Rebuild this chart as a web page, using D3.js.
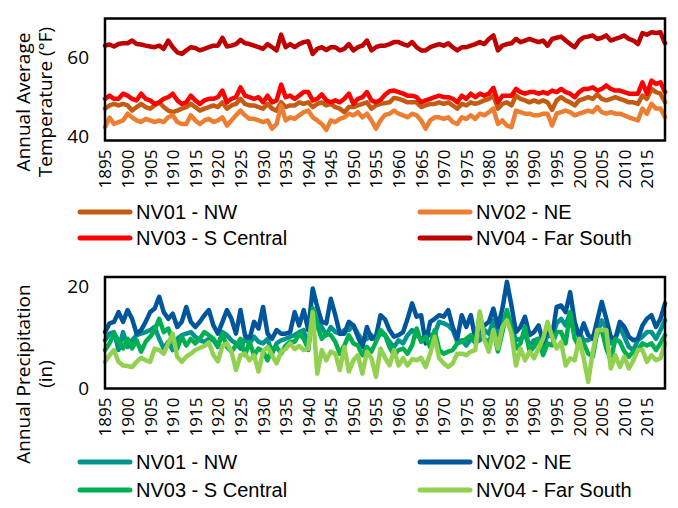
<!DOCTYPE html>
<html>
<head>
<meta charset="utf-8">
<script src="https://cdn.jsdelivr.net/npm/d3@7/dist/d3.min.js"></script>
<style>
    body { margin: 0; background: #fff; }
    svg { display: block; }
    .axis text { font-family: 'Open Sans', sans-serif; fill: #000; }
    .axis-title { font-family: 'Open Sans', sans-serif; font-size: 19px; fill: #000; }
    .legend-label { font-family: 'Liberation Sans Narrow', 'Arial Narrow', 'Liberation Sans', sans-serif; font-size: 20px; fill: #000; }
</style>
</head>
<body>
<svg id="chart" width="678" height="508"></svg>
<script>
//categories
var years = d3.range(1895, 2020);
var yearTicks = [1895, 1900, 1905, 1910, 1915, 1920, 1925, 1930, 1935, 1940, 1945, 1950, 1955,
    1960, 1965, 1970, 1975, 1980, 1985, 1990, 1995, 2000, 2005, 2010, 2015];
var tempTicks = [40, 60];
var precipTicks = [0, 20];

var divisionNames = ['NV01 - NW', 'NV02 - NE', 'NV03 - S Central', 'NV04 - Far South'];

//annual average temperature (F), 1895-2019
var tempNW = [47.1, 47.9, 48.3, 47.9, 48.3, 47.9, 46.6, 47.5, 48.3, 47.5, 47.1, 47.9, 48.7, 47.5, 46.6, 46.2, 46.6, 47.1, 47.5, 48.3,
    47.5, 46.6, 47.1, 47.5, 47.9, 47.5, 48.7, 47.1, 47.9, 48.3, 49.6, 48.3, 47.9, 47.9, 47.5, 47.1, 48.3, 47.1, 46.6, 48.7,
    47.5, 47.9, 47.9, 48.7, 48.3, 48.7, 47.5, 48.3, 48.7, 47.9, 48.3, 47.5, 47.1, 46.2, 47.5, 47.5, 47.9, 48.3, 48.7, 47.1,
    47.9, 48.3, 48.5, 48.7, 49.8, 49.6, 49.2, 48.7, 48.7, 48.7, 47.5, 47.9, 48.3, 48.3, 48.7, 48.3, 48.7, 47.9, 47.1, 48.3,
    47.9, 48.7, 48.3, 48.7, 49.2, 49.6, 50.4, 47.1, 48.3, 48.7, 47.9, 50.4, 49.6, 49.2, 48.7, 49.2, 48.7, 49.2, 48.7, 46.8,
    49.2, 50.0, 49.2, 48.7, 47.9, 49.2, 49.6, 50.0, 49.6, 50.7, 49.6, 49.2, 49.6, 50.0, 49.6, 49.2, 48.7, 48.7, 48.3, 50.4,
    49.6, 52.1, 51.3, 50.9, 48.7];
var tempNE = [42.4, 44.8, 43.2, 43.7, 44.1, 45.8, 44.9, 44.1, 43.7, 44.5, 44.1, 43.7, 44.1, 43.7, 44.9, 45.4, 43.7, 43.2, 43.2, 45.4,
    44.1, 43.2, 44.1, 44.5, 43.7, 44.1, 44.9, 42.8, 44.1, 45.4, 46.6, 45.4, 44.5, 44.5, 44.1, 43.7, 44.1, 42.0, 43.2, 47.9,
    44.1, 44.9, 44.5, 45.4, 46.2, 46.6, 44.9, 44.1, 43.2, 41.7, 44.1, 43.7, 44.5, 44.9, 45.8, 45.4, 46.2, 44.9, 45.8, 44.1,
    42.0, 44.1, 45.5, 45.8, 46.6, 45.8, 45.4, 44.9, 45.8, 45.4, 44.1, 42.0, 44.1, 44.9, 44.9, 44.5, 44.9, 43.7, 43.2, 44.9,
    44.5, 45.4, 44.5, 45.8, 45.4, 46.2, 47.1, 43.2, 44.1, 42.8, 42.4, 46.6, 46.2, 45.8, 45.8, 45.4, 45.4, 45.8, 45.8, 42.8,
    45.8, 46.2, 46.6, 46.2, 45.4, 45.8, 46.2, 46.6, 46.2, 47.5, 46.2, 45.8, 46.2, 45.8, 45.8, 45.4, 44.9, 44.5, 44.1, 47.1,
    45.8, 48.3, 47.1, 47.1, 44.9];
var tempSC = [49.6, 50.4, 49.6, 49.6, 50.9, 50.4, 49.6, 49.2, 50.9, 49.6, 49.2, 48.3, 48.7, 49.6, 50.0, 50.9, 49.2, 48.3, 48.7, 50.4,
    49.2, 48.3, 49.2, 49.6, 49.6, 50.0, 51.7, 48.7, 49.6, 50.0, 52.5, 50.4, 50.0, 49.6, 50.0, 48.7, 50.4, 48.7, 49.2, 53.2,
    50.0, 50.4, 49.6, 50.4, 51.3, 51.3, 49.2, 49.6, 50.7, 49.2, 48.7, 49.2, 48.7, 49.6, 50.9, 48.3, 49.6, 50.0, 51.3, 49.2,
    48.7, 49.3, 50.6, 51.5, 51.7, 51.3, 50.9, 50.4, 50.4, 50.0, 48.7, 49.2, 49.6, 50.0, 50.4, 50.0, 50.0, 49.6, 48.7, 50.4,
    49.6, 50.9, 50.0, 50.9, 50.4, 50.9, 52.4, 48.7, 50.4, 50.4, 50.4, 52.1, 51.3, 50.9, 51.3, 51.3, 50.9, 51.3, 50.9, 51.7,
    51.3, 52.1, 51.3, 50.9, 50.0, 51.3, 52.1, 52.1, 52.5, 51.7, 52.1, 53.0, 52.1, 51.7, 51.7, 51.3, 50.9, 50.9, 50.9, 53.8,
    50.9, 54.2, 53.4, 53.8, 51.3];
var tempFS = [63.1, 63.4, 62.9, 63.5, 63.7, 63.7, 64.4, 63.5, 63.4, 63.1, 62.9, 62.7, 63.1, 62.3, 64.4, 62.7, 61.4, 61.0, 61.9, 62.7,
    62.5, 61.9, 62.3, 62.7, 63.1, 63.1, 65.1, 62.9, 63.1, 63.5, 64.6, 63.7, 63.5, 63.1, 62.7, 62.3, 63.5, 62.7, 61.9, 65.9,
    62.7, 63.5, 62.7, 63.5, 64.0, 64.2, 61.0, 62.3, 62.7, 62.0, 62.7, 62.7, 61.9, 62.3, 63.5, 61.9, 62.7, 63.1, 64.4, 61.9,
    62.7, 63.1, 63.1, 63.5, 64.0, 64.0, 63.5, 63.1, 64.0, 62.7, 61.9, 61.9, 62.7, 63.1, 63.5, 63.1, 63.7, 62.7, 61.9, 62.7,
    62.7, 63.1, 63.5, 64.0, 63.5, 64.8, 65.7, 61.9, 63.1, 63.5, 63.7, 64.8, 64.0, 64.4, 64.8, 64.4, 64.0, 64.4, 63.1, 64.8,
    65.1, 65.4, 64.4, 63.5, 62.7, 64.4, 65.2, 65.4, 65.7, 64.8, 65.1, 65.7, 64.4, 64.8, 65.2, 65.7, 64.8, 64.4, 63.5, 66.3,
    65.9, 66.5, 66.3, 66.5, 63.7];

//annual precipitation (in), 1895-2019
var precipNW = [9.4, 10.7, 11.0, 7.5, 11.0, 8.1, 9.4, 10.4, 10.7, 11.0, 11.4, 12.0, 9.7, 7.8, 9.1, 7.5, 9.7, 10.4, 10.7, 11.0,
    10.1, 9.4, 9.1, 9.7, 9.4, 8.1, 11.0, 10.4, 9.4, 8.8, 7.8, 9.7, 8.8, 10.1, 9.1, 8.8, 9.7, 6.8, 8.8, 9.4,
    9.7, 10.1, 10.4, 11.0, 11.4, 7.5, 15.6, 13.0, 12.0, 10.4, 12.0, 11.0, 10.7, 11.4, 11.4, 12.3, 10.7, 9.4, 9.7, 10.4,
    9.4, 10.7, 10.4, 9.1, 8.1, 9.4, 8.8, 10.4, 11.4, 10.4, 9.7, 10.1, 10.4, 10.7, 13.0, 12.7, 12.3, 11.4, 9.1, 9.4,
    8.4, 9.7, 9.1, 9.4, 11.4, 10.7, 13.3, 10.4, 13.0, 15.0, 12.0, 9.4, 9.7, 10.4, 8.4, 9.4, 9.7, 8.1, 10.4, 10.1,
    12.7, 13.6, 12.3, 14.9, 10.7, 11.0, 9.4, 9.4, 10.1, 10.7, 13.3, 11.7, 8.8, 9.7, 12.0, 10.1, 8.1, 7.5, 9.4, 10.1,
    11.0, 11.0, 9.7, 11.4, 13.3];
var precipNE = [11.0, 12.7, 13.0, 14.9, 13.0, 15.3, 13.6, 10.7, 11.4, 13.0, 14.9, 15.6, 17.9, 14.9, 13.6, 14.6, 12.0, 13.0, 15.9, 13.0,
    12.0, 13.0, 14.3, 15.3, 12.3, 10.7, 13.0, 15.3, 13.6, 10.7, 15.3, 10.4, 9.7, 13.0, 11.7, 15.9, 10.7, 9.7, 11.4, 10.7,
    10.7, 11.0, 14.9, 12.3, 15.3, 11.4, 19.5, 15.9, 13.0, 12.7, 17.5, 14.3, 10.7, 10.7, 13.0, 12.3, 10.1, 8.1, 12.0, 9.7,
    10.1, 14.3, 13.5, 11.4, 10.1, 10.4, 11.0, 13.6, 16.6, 14.0, 14.3, 8.8, 13.0, 13.6, 14.3, 14.0, 15.3, 12.0, 9.7, 14.3,
    12.0, 14.3, 9.7, 11.4, 12.3, 13.0, 15.6, 12.0, 15.6, 20.8, 16.2, 11.0, 12.0, 14.0, 10.4, 11.0, 12.3, 9.1, 11.7, 10.1,
    15.9, 16.2, 14.9, 18.8, 13.0, 10.1, 12.7, 10.4, 9.7, 13.3, 16.9, 13.6, 10.1, 9.7, 13.0, 12.0, 10.1, 9.4, 9.7, 12.3,
    13.6, 14.3, 12.0, 13.6, 16.6];
var precipSC = [7.5, 8.8, 10.7, 9.4, 7.8, 9.7, 7.8, 9.4, 7.2, 9.1, 10.1, 11.4, 13.6, 11.0, 11.7, 9.4, 7.8, 10.1, 8.4, 9.7,
    8.8, 9.7, 11.0, 10.4, 9.7, 8.4, 10.7, 8.1, 7.2, 8.4, 9.7, 6.5, 9.1, 6.5, 7.8, 7.2, 5.5, 7.8, 8.1, 6.8,
    8.4, 9.1, 9.1, 10.7, 9.7, 7.8, 15.6, 12.3, 9.7, 10.7, 10.4, 9.1, 6.8, 8.4, 10.4, 8.8, 8.4, 6.5, 8.1, 7.2,
    9.1, 11.4, 10.5, 8.1, 6.5, 7.5, 7.8, 6.8, 8.4, 11.7, 9.1, 10.1, 8.1, 11.4, 7.5, 6.8, 7.2, 7.5, 8.8, 9.1,
    9.7, 10.4, 8.8, 14.6, 9.7, 9.1, 11.4, 7.2, 11.0, 15.3, 11.4, 7.8, 8.8, 12.0, 7.2, 8.1, 9.7, 6.5, 8.8, 8.4,
    11.0, 11.0, 8.8, 14.9, 9.7, 8.1, 8.8, 6.8, 6.2, 11.0, 11.4, 7.8, 5.5, 9.7, 9.1, 7.2, 6.2, 7.2, 7.5, 8.8,
    8.4, 8.8, 7.5, 8.8, 10.4];
var precipFS = [5.2, 6.5, 7.5, 5.2, 4.5, 4.4, 4.2, 5.2, 6.0, 5.5, 5.2, 7.8, 7.5, 6.8, 8.8, 10.7, 6.2, 5.2, 6.2, 6.8,
    7.5, 7.9, 8.3, 9.0, 6.5, 5.3, 8.3, 8.8, 7.2, 3.6, 6.5, 6.8, 5.5, 6.5, 3.3, 7.2, 8.1, 6.5, 4.9, 7.2,
    7.7, 8.8, 7.7, 8.3, 7.5, 7.8, 14.9, 2.9, 7.5, 5.5, 7.2, 6.8, 3.6, 8.1, 3.3, 5.5, 6.5, 2.9, 7.2, 5.9,
    2.3, 7.8, 6.0, 4.5, 7.5, 4.5, 5.9, 4.5, 5.7, 5.5, 6.0, 4.2, 6.8, 10.1, 5.9, 4.9, 4.2, 4.9, 6.8, 6.8,
    6.5, 7.2, 7.5, 15.0, 9.5, 7.2, 11.4, 7.8, 12.0, 13.3, 10.7, 4.5, 7.8, 5.5, 7.2, 5.9, 7.8, 9.7, 13.0, 10.1,
    7.8, 9.1, 4.5, 5.9, 5.5, 9.7, 5.9, 1.3, 7.2, 11.4, 11.4, 11.4, 3.9, 6.5, 4.2, 6.2, 3.9, 5.5, 7.5, 7.5,
    5.2, 6.5, 5.5, 5.9, 8.8];

var tempColors = ['#C55A11', '#ED7D31', '#FF0000', '#C00000'];
var precipColors = ['#00948F', '#00569B', '#00B050', '#92D050'];

var svg = d3.select('#chart');

var x = d3.scaleLinear()
    .domain([years[0], years[years.length - 1]])
    .range([105, 665]);

drawPanel({
    top: 18.5,
    bottom: 140.5,
    yDomain: [39, 70],
    yTicks: tempTicks,
    series: [tempNW, tempNE, tempSC, tempFS],
    colors: tempColors,
    title: ['Annual Average', 'Temperature (°F)'],
    titleY: 102,
    legendY: [212, 238]
});

drawPanel({
    top: 277,
    bottom: 388.5,
    yDomain: [0, 21.75],
    yTicks: precipTicks,
    series: [precipNW, precipNE, precipSC, precipFS],
    colors: precipColors,
    title: ['Annual Precipitation', '(in)'],
    titleY: 374,
    legendY: [462, 490]
});

function drawPanel(cfg) {
    var y = d3.scaleLinear()
        .domain(cfg.yDomain)
        .range([cfg.bottom, cfg.top]);

    var g = svg.append('g');

    var line = d3.line()
        .x(function(d, i) { return x(years[i]); })
        .y(function(d) { return y(d); });

    g.selectAll('.series')
        .data(cfg.series)
        .enter()
        .append('path')
        .attr('class', 'series')
        .attr('d', line)
        .attr('fill', 'none')
        .attr('stroke', function(d, i) { return cfg.colors[i]; })
        .attr('stroke-width', 4.5)
        .attr('stroke-linejoin', 'round')
        .attr('stroke-linecap', 'round');

    //plot area border
    g.append('rect')
        .attr('x', x.range()[0])
        .attr('y', cfg.top)
        .attr('width', x.range()[1] - x.range()[0])
        .attr('height', cfg.bottom - cfg.top)
        .attr('fill', 'none')
        .attr('stroke', '#000')
        .attr('stroke-width', 2.5);

    var yAxis = g.append('g')
        .attr('class', 'axis')
        .attr('transform', 'translate(' + x.range()[0] + ',0)')
        .call(d3.axisLeft(y).tickValues(cfg.yTicks).tickSize(0).tickPadding(16));
    yAxis.select('.domain').remove();
    yAxis.selectAll('text').style('font-size', '19px');

    var xAxis = g.append('g')
        .attr('class', 'axis')
        .attr('transform', 'translate(0,' + cfg.bottom + ')')
        .call(d3.axisBottom(x).tickValues(yearTicks).tickSize(0).tickFormat(d3.format('d')));
    xAxis.select('.domain').remove();
    xAxis.selectAll('text')
        .style('font-size', '17px')
        .attr('transform', 'rotate(-90)')
        .attr('text-anchor', 'end')
        .attr('x', -9)
        .attr('y', 0)
        .attr('dy', '0.35em');

    //axis title, two lines
    g.selectAll('.axis-title')
        .data(cfg.title)
        .enter()
        .append('text')
        .attr('class', 'axis-title')
        .attr('transform', function(d, i) {
            return 'translate(' + (23 + i * 22) + ',' + cfg.titleY + ') rotate(-90)';
        })
        .attr('text-anchor', 'middle')
        .attr('dy', '0.35em')
        .text(function(d) { return d; });

    //legend, 2 x 2
    var legendX = [78, 418];
    var item = g.selectAll('.legend-item')
        .data(divisionNames)
        .enter()
        .append('g')
        .attr('class', 'legend-item')
        .attr('transform', function(d, i) {
            return 'translate(' + legendX[i % 2] + ',' + cfg.legendY[Math.floor(i / 2)] + ')';
        });

    item.append('line')
        .attr('x1', 2)
        .attr('x2', 52)
        .attr('stroke', function(d, i) { return cfg.colors[i]; })
        .attr('stroke-width', 5)
        .attr('stroke-linecap', 'round');

    item.append('text')
        .attr('class', 'legend-label')
        .attr('x', 58)
        .attr('dy', '0.35em')
        .text(function(d) { return d; });
}
</script>
</body>
</html>
